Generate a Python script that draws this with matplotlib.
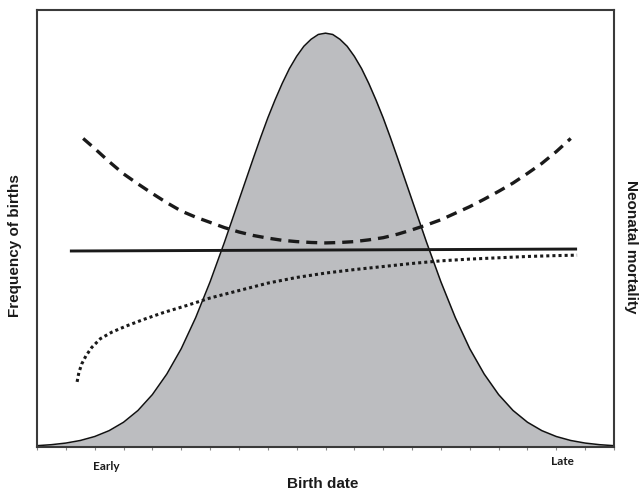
import numpy as np
import matplotlib
matplotlib.use('Agg')
import matplotlib.pyplot as plt

params = {
    'font.family': ['Liberation Sans', 'DejaVu Sans'],
    'font.weight': 'bold',
    'axes.linewidth': 1.5,
}
plt.rcParams.update(params)

# birth frequency (bell); finer steps around the peak
birth_date = np.r_[np.arange(0, 7.0, 0.5), np.arange(7.0, 13.01, 0.25),
                   np.arange(13.5, 20.1, 0.5)]
births = [0.003, 0.0053, 0.0090, 0.0149, 0.0240, 0.0374, 0.0567, 0.0836,
          0.120, 0.167, 0.225, 0.296, 0.378, 0.469,
          0.565, 0.613, 0.661, 0.708, 0.753, 0.794, 0.832, 0.866, 0.894,
          0.917, 0.933, 0.944, 0.947, 0.944, 0.933, 0.917, 0.894, 0.866,
          0.832, 0.794, 0.753, 0.708, 0.661, 0.613, 0.565,
          0.469, 0.378, 0.296, 0.225, 0.167, 0.120, 0.0836, 0.0567,
          0.0374, 0.0240, 0.0149, 0.0090, 0.0053, 0.003]

# U-shaped mortality (dashed)
u_date = np.r_[1.6, np.arange(2.0, 18.6, 0.5)]
u_mort = [0.706, 0.683, 0.653, 0.625, 0.602, 0.580, 0.559, 0.540, 0.526,
          0.514, 0.502, 0.492, 0.484, 0.478, 0.473, 0.470, 0.468, 0.467,
          0.468, 0.470, 0.474, 0.479, 0.487, 0.497, 0.508, 0.520, 0.535,
          0.550, 0.567, 0.585, 0.604, 0.626, 0.649, 0.676, 0.706]

# flat mortality (solid)
flat_date = [1.14, 18.72]
flat_mort = [0.4485, 0.453]

# rising mortality (dotted)
rise_date = [1.39, 1.45, 1.55, 1.7, 1.9, 2.2, 2.6, 3.1, 3.7, 4.4, 5.2, 6.0,
             7.0, 8.0, 9.0, 10.0, 11.0, 12.0, 13.0, 14.0, 15.0, 16.0, 17.0,
             18.0, 18.72]
rise_mort = [0.149, 0.170, 0.190, 0.209, 0.228, 0.248, 0.263, 0.277, 0.292,
             0.308, 0.324, 0.341, 0.358, 0.375, 0.388, 0.398, 0.406, 0.413,
             0.420, 0.426, 0.430, 0.433, 0.436, 0.438, 0.439]

fig = plt.figure(figsize=(6.4, 4.95), dpi=100)
ax = fig.add_axes([37 / 640, 1 - 447 / 495, 577 / 640, 437 / 495])

ax.fill_between(birth_date, births, color='#bcbdc0', lw=0)
ax.plot(birth_date, births, color='#111111', lw=1.1)

ax.plot(u_date, u_mort, color='#1a1a1a', lw=2.4, dashes=(3.3, 2.1))
ax.plot(flat_date, flat_mort, color='#1a1a1a', lw=2.1, solid_capstyle='butt')
ax.plot(rise_date, rise_mort, color='#1a1a1a', lw=2.2,
        dashes=(1, 1), dash_capstyle='butt')

ax.set_xlim(0, 20)
ax.set_ylim(0, 1)
ax.set_xticks(np.arange(0, 21, 1))
ax.set_xticklabels([])
ax.set_yticks([])
ax.tick_params(axis='x', direction='out', length=2.5, width=0.8,
               color='#888888')
for s in ax.spines.values():
    s.set_color('#3a3a3a')

tr = ax.get_xaxis_transform()
ax.text(2.39, -0.0526, 'Early', transform=tr, ha='center', va='baseline',
        fontsize=8.5, family='Lato', weight='bold', color='#1a1a1a')
ax.text(18.23, -0.0412, 'Late', transform=tr, ha='center', va='baseline',
        fontsize=8.5, family='Lato', weight='bold', color='#1a1a1a')

fig.text(323 / 640, 1 - 484 / 495, 'Birth date', ha='center', va='center',
         fontsize=11, color='#1a1a1a')
fig.text(15 / 640, 1 - 246 / 495, 'Frequency of births', ha='center',
         va='center', rotation=90, fontsize=11, color='#1a1a1a')
fig.text(631 / 640, 1 - 247 / 495, 'Neonatal mortality', ha='center',
         va='center', rotation=-90, fontsize=11, color='#1a1a1a')

plt.savefig('out.png', dpi=100)
